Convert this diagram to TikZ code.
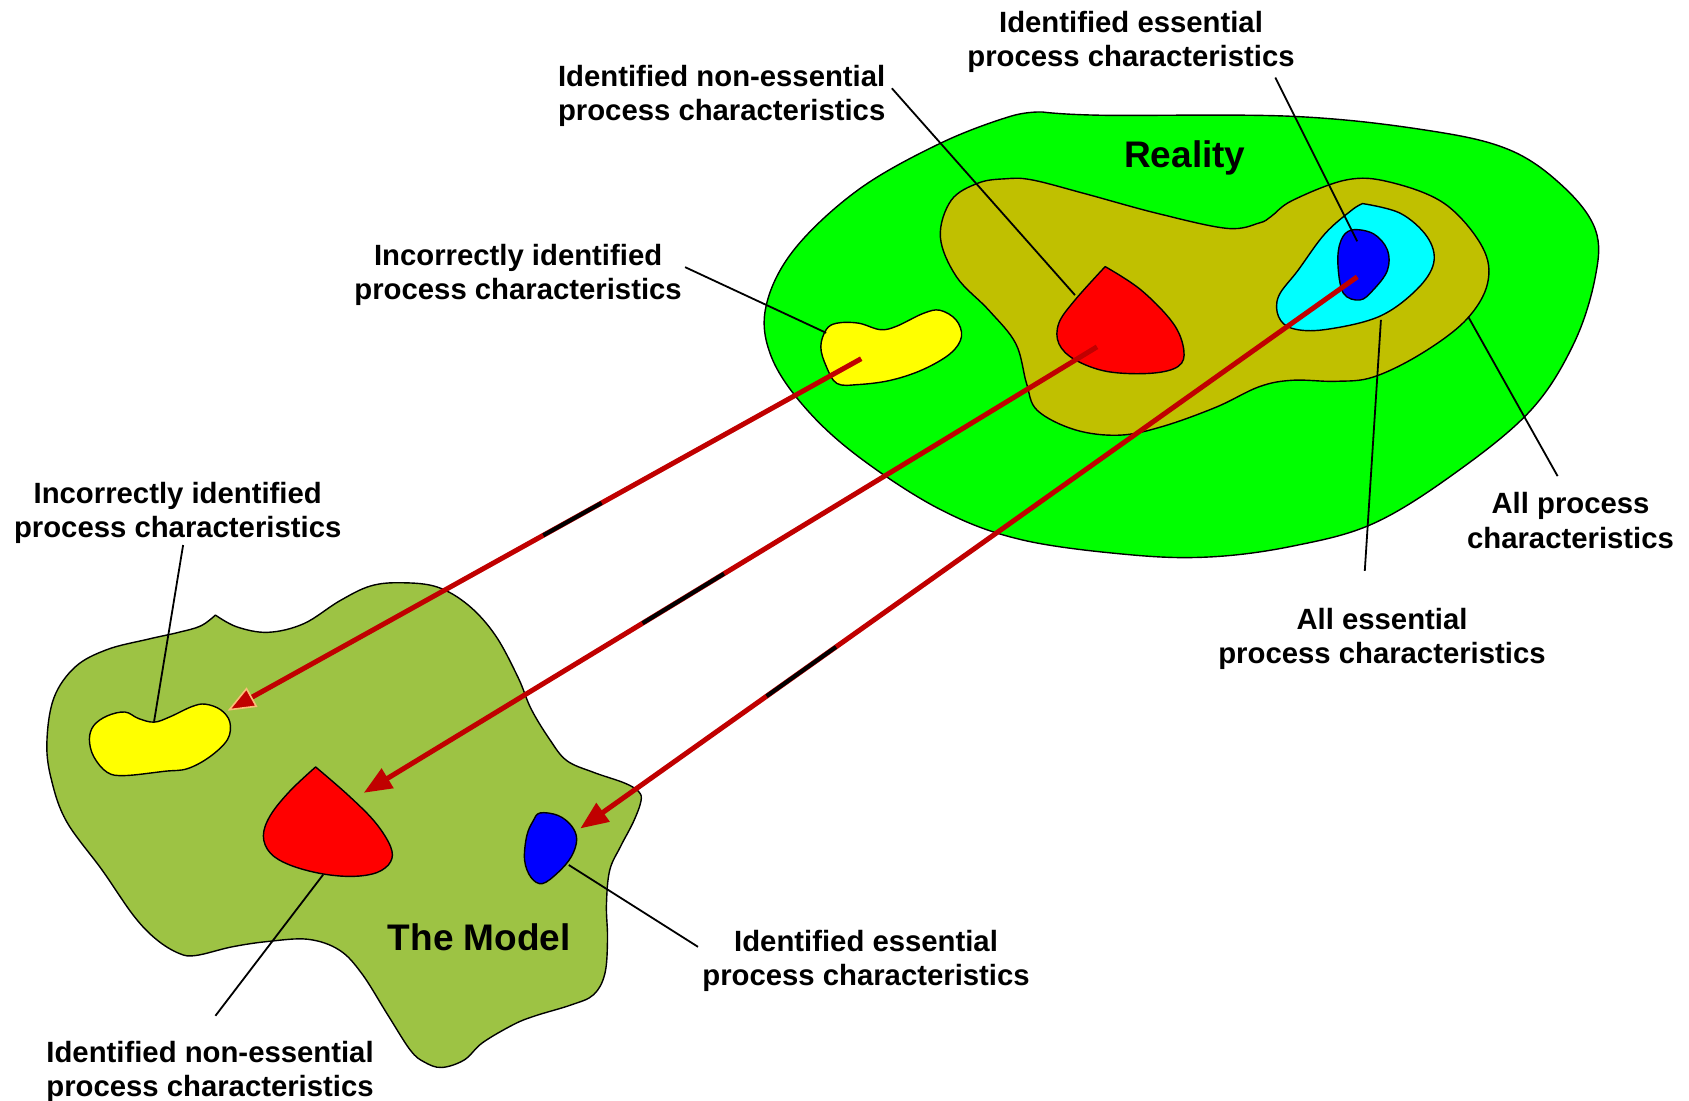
\documentclass[tikz,border=0pt]{standalone}
\usepackage{fontspec}
\setmainfont{Liberation Sans}
\usetikzlibrary{arrows.meta}
\definecolor{realgreen}{RGB}{0,255,0}
\definecolor{olivezone}{RGB}{192,192,0}
\definecolor{modelgreen}{RGB}{157,195,68}
\definecolor{arrowred}{RGB}{192,0,0}
\definecolor{tipedge}{RGB}{250,190,120}
\definecolor{pureyellow}{RGB}{255,255,0}
\definecolor{purecyan}{RGB}{0,255,255}
\definecolor{pureblue}{RGB}{0,0,255}
\definecolor{purered}{RGB}{255,0,0}
\begin{document}
\begin{tikzpicture}[x=1.0772pt,y=-1.0772pt,
  region/.style={draw=black, line width=1.4pt, line join=round},
  leader/.style={draw=black, line width=1.8pt},
  flow/.style={draw=arrowred, line width=5pt, -{Triangle[length=28pt,width=22pt]}},
  flowedge/.style={draw=arrowred, line width=5pt, -{Triangle[length=28pt,width=22pt,color=tipedge,fill=arrowred,line width=1.6pt]}},
  glitch/.style={draw=black, line width=4pt},
  caption/.style={align=center, inner sep=0pt, font=\fontsize{29.3}{34.5}\selectfont\bfseries},
  heading/.style={inner sep=0pt, font=\fontsize{37}{40}\selectfont\bfseries}]
\useasboundingbox (0,0) rectangle (1568,1022);

% ---------- Reality ----------
\draw[region, fill=realgreen] plot[smooth, tension=0.6] coordinates {
  (968,104) (1023,107) (1200,108) (1325,121) (1401,139) (1451,173) (1481,213)
  (1481,257) (1461,319) (1421,381) (1351,439) (1275,486) (1200,507) (1124,517)
  (1049,515) (948,501) (873,473) (797,424) (747,378) (716,331) (711,285)
  (737,232) (797,176) (873,133) (938,108) (968,104)} -- cycle;

\draw[region, fill=olivezone] plot[smooth cycle, tension=0.6] coordinates {
  (933,166) (958,167) (1008,180) (1074,198) (1139,212) (1169,207) (1180,201)
  (1200,186) (1250,167) (1290,169) (1341,189) (1376,229) (1381,263) (1361,297)
  (1320,328) (1275,350) (1240,354) (1200,353) (1169,359) (1129,378) (1079,396)
  (1039,404) (998,399) (963,381) (953,356) (943,319) (918,288) (888,257)
  (873,220) (883,186) (908,170)};

\draw[region, fill=purecyan] plot[smooth, tension=0.6] coordinates {
  (1265,189) (1300,198) (1325,220) (1331,244) (1315,269) (1280,294) (1230,306)
  (1200,305) (1187,294) (1187,275) (1205,251) (1230,217) (1255,195) (1265,189)} -- cycle;

\draw[region, fill=pureblue] plot[smooth cycle, tension=0.6] coordinates {
  (1255,213.5) (1275,217) (1288,232) (1288,251) (1275,269) (1262.5,278.5)
  (1247,272) (1242,244) (1245,223)};

\draw[region, fill=purered] plot[smooth, tension=0.6] coordinates {
  (1026,247.5) (1059,269) (1089,300) (1099,325) (1094,340) (1069,346.5)
  (1028.5,345) (998,334) (983,319) (983,300) (998,278.5) (1026,247.5)} -- cycle;

\draw[region, fill=pureyellow] plot[smooth cycle, tension=0.6] coordinates {
  (767,306) (777,300) (797,300) (817,306) (832,303) (857,291) (872.5,288)
  (887.6,297) (892.6,312.5) (882.5,328) (857,343) (827,353) (797,357)
  (777,356) (767,340) (762,322)};

% ---------- The Model ----------
\draw[region, fill=modelgreen] plot[smooth, tension=0.6] coordinates {
  (200,571) (220,582) (249,587) (282,579) (315,558) (344,544) (373,541) (406,545)
  (435,562) (460,590) (481,629) (493,658) (510,686) (526,706) (551,717) (580,727)
  (593,735) (595,744) (588,763) (576,786) (566,808) (563,840) (564,872)
  (561.5,904) (551,923.5) (530,933) (497,943) (477,951) (448,968) (431,984)
  (410,991) (394,986) (381,975) (360.5,943) (336,904) (315,882) (286,872)
  (249,874) (215.5,879) (182,887) (166,885) (145,872) (124,850) (95,808)
  (62,763) (48,725) (43.5,690) (50,648) (70,619) (99.5,603) (137,593.5)
  (166,587) (186.5,581) (200,571)} -- cycle;

\draw[region, fill=pureyellow] plot[smooth cycle, tension=0.6] coordinates {
  (116,661) (128.5,667) (143,670.4) (157.5,665.6) (178,656) (190.6,653.7)
  (205,659) (213.4,670.4) (211.3,686.4) (195,702.4) (174,713.6) (153,716)
  (116,720) (99.5,717) (87,702.4) (83,686.4) (87,673.6) (99.5,664.6)};

\draw[region, fill=purered] plot[smooth, tension=0.6] coordinates {
  (293,712) (323,738) (348,763) (362.6,786) (362.6,800) (350,810) (327,813.6)
  (298,811) (269,803) (251,792) (244.5,776) (251,757) (269,734.5) (293,712)} -- cycle;

\draw[region, fill=pureblue] plot[smooth cycle, tension=0.6] coordinates {
  (501.4,754.7) (518,757) (530.4,766.5) (535.4,779.3) (530.4,795.3) (518,810)
  (503.5,820.3) (493,814.6) (487,798.5) (489,776) (495,762)};

% ---------- captions ----------
\node[heading] (reality) at (1100,147) {Reality};
\node[heading] (model) at (445,870) {The Model};

\node[caption] (topess) at (1050,39) {Identified essential\\process characteristics};
\node[caption] (topnon) at (670,89) {Identified non-essential\\process characteristics};
\node[caption] (topinc) at (481,255) {Incorrectly identified\\process characteristics};
\node[caption] (leftinc) at (165,476) {Incorrectly identified\\process characteristics};
\node[caption] (allproc) at (1458,483) {All process\\characteristics};
\node[caption] (alless) at (1283,593) {All essential\\process characteristics};
\node[caption] (botess) at (804,892) {Identified essential\\process characteristics};
\node[caption] (botnon) at (195,995) {Identified non-essential\\process characteristics};

% ---------- leader line end points ----------
\coordinate (l1a) at (1184,72);   \coordinate (l1b) at (1260,224);
\coordinate (l2a) at (828,82);    \coordinate (l2b) at (998,274);
\coordinate (l3a) at (636,248);   \coordinate (l3b) at (767,309);
\coordinate (l4a) at (170,506);   \coordinate (l4b) at (143,670);
\coordinate (l5a) at (1446,442);  \coordinate (l5b) at (1363,294);
\coordinate (l6a) at (1267,530);  \coordinate (l6b) at (1282,297);
\coordinate (l7a) at (648,879);   \coordinate (l7b) at (528,803);
\coordinate (l8a) at (200,943);   \coordinate (l8b) at (300,812);

\foreach \i in {1,...,8} \draw[leader] (l\i a) -- (l\i b);

% ---------- mapping arrows ----------
\coordinate (a1s) at (799.5,333);  \coordinate (a1e) at (211.3,659.8);
\coordinate (a2s) at (1018.4,322); \coordinate (a2e) at (337.7,736);
\coordinate (a3s) at (1260,257);   \coordinate (a3e) at (538.7,769.1);

\draw[flowedge] (a1s) -- (a1e);
\draw[flow] (a2s) -- (a2e);
\draw[flow] (a3s) -- (a3e);

% short dark stretches along the arrows
\path (a1s) -- (a1e) coordinate[pos=0.4096] (g1a) coordinate[pos=0.5017] (g1b);
\path (a2s) -- (a2e) coordinate[pos=0.5087] (g2a) coordinate[pos=0.6197] (g2b);
\path (a3s) -- (a3e) coordinate[pos=0.6709] (g3a) coordinate[pos=0.7602] (g3b);
\draw[glitch] (g1a) -- (g1b);
\draw[glitch] (g2a) -- (g2b);
\draw[glitch] (g3a) -- (g3b);
\end{tikzpicture}
\end{document}
